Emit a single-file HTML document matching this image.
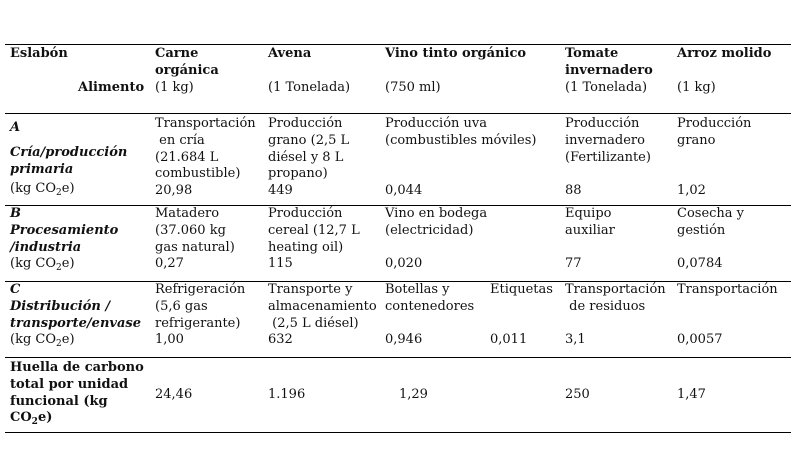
<!DOCTYPE html>
<html><head><meta charset="utf-8"><style>
body{margin:0;width:795px;height:456px;background:#fff;position:relative;overflow:hidden;font-family:"DejaVu Serif","Liberation Serif",serif;font-size:13px;color:#111}
.t{position:absolute;line-height:16.8px;white-space:nowrap}
.h{position:absolute;left:5px;width:786px;height:1px;background:#000}
b,.b{font-weight:bold}
i{font-style:italic;font-weight:bold}
sub{font-size:9px;vertical-align:-3px;line-height:0}
</style></head><body>
<div class="h" style="top:44px"></div>
<div class="h" style="top:113px"></div>
<div class="h" style="top:205px"></div>
<div class="h" style="top:281px"></div>
<div class="h" style="top:357px"></div>
<div class="h" style="top:432px"></div>

<div class="t b" style="left:10px;top:46px">Eslabón</div>
<div class="t b" style="left:78px;top:80px">Alimento</div>
<div class="t" style="left:155px;top:46px"><b>Carne<br>orgánica</b><br>(1 kg)</div>
<div class="t" style="left:268px;top:46px"><b>Avena</b><br><br>(1 Tonelada)</div>
<div class="t" style="left:385px;top:46px"><b>Vino tinto orgánico</b><br><br>(750 ml)</div>
<div class="t" style="left:565px;top:46px"><b>Tomate<br>invernadero</b><br>(1 Tonelada)</div>
<div class="t" style="left:677px;top:46px"><b>Arroz molido</b><br><br>(1 kg)</div>

<div class="t" style="left:10px;top:120px"><i>A</i></div>
<div class="t" style="left:10px;top:145px"><i>Cría/producción<br>primaria</i></div>
<div class="t" style="left:10px;top:181px">(kg CO<sub>2</sub>e)</div>
<div class="t" style="left:155px;top:116px">Transportación<br>&nbsp;en cría<br>(21.684 L<br>combustible)<br>20,98</div>
<div class="t" style="left:268px;top:116px">Producción<br>grano (2,5 L<br>diésel y 8 L<br>propano)<br>449</div>
<div class="t" style="left:385px;top:116px">Producción uva<br>(combustibles móviles)<br><br><br>0,044</div>
<div class="t" style="left:565px;top:116px">Producción<br>invernadero<br>(Fertilizante)<br><br>88</div>
<div class="t" style="left:677px;top:116px">Producción<br>grano<br><br><br>1,02</div>

<div class="t" style="left:10px;top:206px"><i>B<br>Procesamiento<br>/industria</i><br>(kg CO<sub>2</sub>e)</div>
<div class="t" style="left:155px;top:206px">Matadero<br>(37.060 kg<br>gas natural)<br>0,27</div>
<div class="t" style="left:268px;top:206px">Producción<br>cereal (12,7 L<br>heating oil)<br>115</div>
<div class="t" style="left:385px;top:206px">Vino en bodega<br>(electricidad)<br><br>0,020</div>
<div class="t" style="left:565px;top:206px">Equipo<br>auxiliar<br><br>77</div>
<div class="t" style="left:677px;top:206px">Cosecha y<br>gestión<br><br>0,0784</div>

<div class="t" style="left:10px;top:282px"><i>C<br>Distribución /<br>transporte/envase</i><br>(kg CO<sub>2</sub>e)</div>
<div class="t" style="left:155px;top:282px">Refrigeración<br>(5,6 gas<br>refrigerante)<br>1,00</div>
<div class="t" style="left:268px;top:282px">Transporte y<br>almacenamiento<br>&nbsp;(2,5 L diésel)<br>632</div>
<div class="t" style="left:385px;top:282px">Botellas y<br>contenedores<br><br>0,946</div>
<div class="t" style="left:490px;top:282px">Etiquetas<br><br><br>0,011</div>
<div class="t" style="left:565px;top:282px">Transportación<br>&nbsp;de residuos<br><br>3,1</div>
<div class="t" style="left:677px;top:282px">Transportación<br><br><br>0,0057</div>

<div class="t b" style="left:10px;top:360px">Huella de carbono<br>total por unidad<br>funcional (kg<br>CO<sub>2</sub>e)</div>
<div class="t" style="left:155px;top:387px">24,46</div>
<div class="t" style="left:268px;top:387px">1.196</div>
<div class="t" style="left:399px;top:387px">1,29</div>
<div class="t" style="left:565px;top:387px">250</div>
<div class="t" style="left:677px;top:387px">1,47</div>
</body></html>
